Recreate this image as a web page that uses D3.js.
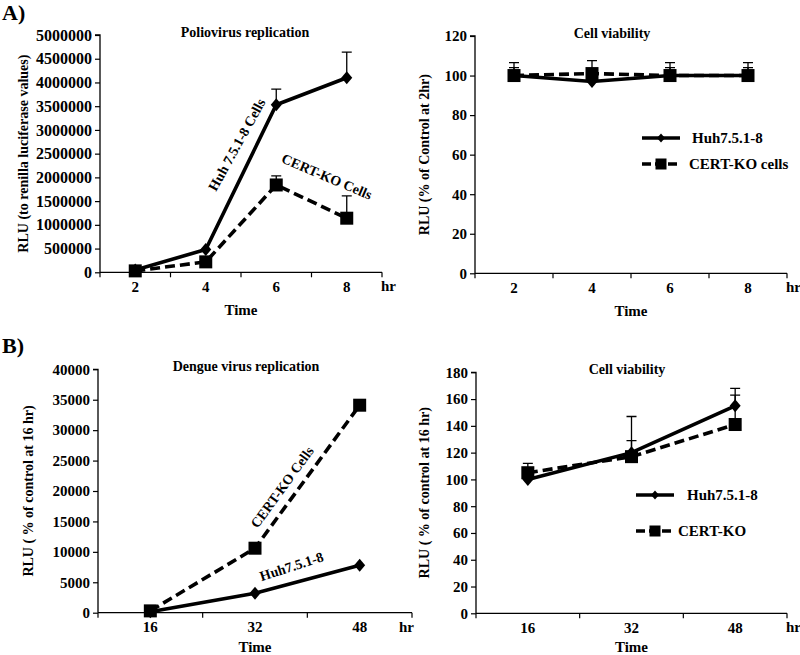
<!DOCTYPE html>
<html><head><meta charset="utf-8">
<script src="https://cdn.jsdelivr.net/npm/d3@7"></script>
<style>
body{margin:0;background:#fff;}
text{font-family:"Liberation Serif","Times New Roman",serif;font-weight:bold;fill:#000;}
</style></head>
<body><svg id="c" width="800" height="655"></svg>
<script>
// ---- data ----
const polioTimes = ["2","4","6","8"];
const polioHuh = [50000, 480000, 3530000, 4100000];
const polioHuhErr = [0, 0, 330000, 540000];
const polioCert = [30000, 220000, 1840000, 1140000];
const polioCertErr = [0, 0, 190000, 470000];
const polioYTicks = [0,500000,1000000,1500000,2000000,2500000,3000000,3500000,4000000,4500000,5000000];

const viabATimes = ["2","4","6","8"];
const viabAHuh = [100, 97, 100, 100];
const viabAHuhErr = [4, 4, 4, 4];
const viabACert = [100, 101, 100, 100];
const viabACertErr = [6.5, 6.5, 6.5, 6.5];
const viabAYTicks = [0,20,40,60,80,100,120];

const dengueTimes = ["16","32","48"];
const dengueHuh = [150, 3200, 7800];
const dengueCert = [300, 10600, 34100];
const dengueYTicks = [0,5000,10000,15000,20000,25000,30000,35000,40000];

const viabBTimes = ["16","32","48"];
const viabBHuh = [100, 120, 155];
const viabBHuhErr = [0, 27, 13];
const viabBCert = [105, 117, 141];
const viabBCertErr = [7, 12, 22];
const viabBYTicks = [0,20,40,60,80,100,120,140,160,180];

const svg = d3.select("#c");

function diamondPath(cx, cy, w, h){
  return `M${cx},${cy-h/2}L${cx+w/2},${cy}L${cx},${cy+h/2}L${cx-w/2},${cy}Z`;
}

function panel(cfg){
  const g = svg.append("g");
  const x = d3.scaleBand().domain(cfg.cats).range([cfg.x0, cfg.x1]).paddingInner(0).paddingOuter(0);
  const y = d3.scaleLinear().domain([0, cfg.yMax]).range([cfg.yB, cfg.yT]);
  const cx = d => x(d) + x.bandwidth()/2;

  // y axis
  const ya = g.append("g").attr("transform",`translate(${cfg.x0},0)`)
    .call(d3.axisLeft(y).tickValues(cfg.yTicks).tickSize(5).tickPadding(3).tickFormat(d3.format("d")));
  ya.select(".domain").attr("stroke","#000").attr("stroke-width",1.3).attr("d",`M-5,${cfg.yT}H0V${cfg.yB}`);
  ya.selectAll(".tick line").attr("stroke","#000").attr("stroke-width",1.2);
  ya.selectAll(".tick text").style("font-size",cfg.tickFs+"px").attr("font-family",null);

  // x axis (labels at centers, ticks at band edges)
  const xa = g.append("g").attr("transform",`translate(0,${cfg.yB})`)
    .call(d3.axisBottom(x).tickSize(0).tickPadding(9));
  xa.select(".domain").attr("stroke","#000").attr("stroke-width",1.3).attr("d",`M${cfg.x0},0H${cfg.x1}`);
  xa.selectAll(".tick text").style("font-size","15px").attr("font-family",null);
  const edges = cfg.cats.map(c => x(c)).concat([cfg.x1]);
  g.selectAll(".edge").data(edges).join("line")
    .attr("x1",d=>d).attr("x2",d=>d).attr("y1",cfg.yB).attr("y2",cfg.yB+5)
    .attr("stroke","#000").attr("stroke-width",1.2);
  g.append("text").attr("x",cfg.hrX).attr("y",cfg.yB+19).style("font-size","15px").text("hr");
  g.append("text").attr("x",(cfg.x0+cfg.x1)/2).attr("y",cfg.yB+cfg.timeDy).attr("text-anchor","middle")
    .style("font-size","15px").text("Time");

  // y label
  g.append("text").attr("transform",`translate(${cfg.yLabX},${(cfg.yT+cfg.yB)/2}) rotate(-90)`)
    .attr("text-anchor","middle").style("font-size","14px").text(cfg.yLabel);
  // title
  g.append("text").attr("x",cfg.titleX).attr("y",cfg.yT+2).attr("text-anchor","middle")
    .style("font-size","14px").text(cfg.title);

  // error bars
  const errs = [];
  cfg.series.forEach(s => { if(s.err) s.vals.forEach((v,i)=>{ if(s.err[i]>0) errs.push({c:cfg.cats[i], v, e:s.err[i]}); }); });
  g.selectAll(".eb").data(errs).join("path")
    .attr("d",d=>`M${cx(d.c)},${y(d.v)}V${y(d.v+d.e)}M${cx(d.c)-5},${y(d.v+d.e)}H${cx(d.c)+5}`)
    .attr("stroke","#000").attr("stroke-width",1.3).attr("fill","none");

  // lines + markers
  cfg.series.forEach(s => {
    const pts = s.vals.map((v,i)=>[cx(cfg.cats[i]), y(v)]);
    g.append("path").attr("d", d3.line()(pts)).attr("fill","none").attr("stroke","#000")
      .attr("stroke-width",3.6).attr("stroke-dasharray", s.dash ? "10,5" : null);
    if(s.marker==="diamond"){
      g.selectAll(null).data(pts).join("path").attr("d",p=>diamondPath(p[0],p[1],11,13)).attr("fill","#000");
    } else {
      g.selectAll(null).data(pts).join("rect").attr("x",p=>p[0]-6.5).attr("y",p=>p[1]-6.5)
        .attr("width",13).attr("height",13).attr("fill","#000");
    }
  });

  // legend
  if(cfg.legend){
    cfg.legend.forEach(L => {
      g.append("line").attr("x1",L.x).attr("x2",L.x+38).attr("y1",L.y).attr("y2",L.y)
        .attr("stroke","#000").attr("stroke-width",3.6).attr("stroke-dasharray",L.dash?"9,4":null);
      if(L.marker==="diamond") g.append("path").attr("d",diamondPath(L.x+19,L.y,8,9)).attr("fill","#000");
      else g.append("rect").attr("x",L.x+13.5).attr("y",L.y-5.5).attr("width",11).attr("height",11).attr("fill","#000");
      g.append("text").attr("x",L.tx).attr("y",L.y+5).style("font-size","15px").text(L.text);
    });
  }
  // in-plot labels
  if(cfg.labels){
    cfg.labels.forEach(L => {
      g.append("text").attr("transform",`translate(${L.x},${L.y}) rotate(${L.rot})`)
        .attr("text-anchor","middle").style("font-size","14px").text(L.text);
    });
  }
}

svg.append("text").attr("x",2).attr("y",20).style("font-size","22px").text("A)");
svg.append("text").attr("x",2).attr("y",353).style("font-size","22px").text("B)");

panel({cats:polioTimes, x0:100, x1:382, yT:35, yB:272.3, yMax:5000000, yTicks:polioYTicks, tickFs:16,
  hrX:381, timeDy:43,
  yLabX:28, yLabel:"RLU (to renilla luciferase values)", title:"Poliovirus replication", titleX:245,
  series:[{vals:polioHuh, err:polioHuhErr, marker:"diamond"},{vals:polioCert, err:polioCertErr, marker:"square", dash:true}],
  labels:[{x:241,y:147,rot:-61,text:"Huh 7.5.1-8 Cells"},{x:325,y:181,rot:23,text:"CERT-KO Cells"}]});

panel({cats:viabATimes, x0:475, x1:787, yT:36, yB:273.3, yMax:120, yTicks:viabAYTicks, tickFs:15,
  hrX:786, timeDy:43,
  yLabX:429, yLabel:"RLU (% of Control at 2hr)", title:"Cell viability", titleX:612,
  series:[{vals:viabAHuh, err:viabAHuhErr, marker:"diamond"},{vals:viabACert, err:viabACertErr, marker:"square", dash:true}],
  legend:[{x:642,y:138,tx:692,marker:"diamond",text:"Huh7.5.1-8"},{x:642,y:164,tx:689,marker:"square",dash:true,text:"CERT-KO cells"}]});

panel({cats:dengueTimes, x0:98, x1:412, yT:369.3, yB:612.7, yMax:40000, yTicks:dengueYTicks, tickFs:15,
  hrX:399, timeDy:39,
  yLabX:33, yLabel:"RLU ( % of control at 16 hr)", title:"Dengue virus replication", titleX:246,
  series:[{vals:dengueHuh, marker:"diamond"},{vals:dengueCert, marker:"square", dash:true}],
  labels:[{x:286,y:490,rot:-54,text:"CERT-KO Cells"},{x:293,y:571,rot:-18,text:"Huh7.5.1-8"}]});

panel({cats:viabBTimes, x0:476, x1:787, yT:372.3, yB:613.3, yMax:180, yTicks:viabBYTicks, tickFs:15,
  hrX:786, timeDy:39,
  yLabX:429, yLabel:"RLU ( % of control at 16 hr)", title:"Cell viability", titleX:627,
  series:[{vals:viabBHuh, err:viabBHuhErr, marker:"diamond"},{vals:viabBCert, err:viabBCertErr, marker:"square", dash:true}],
  legend:[{x:636,y:495,tx:687,marker:"diamond",text:"Huh7.5.1-8"},{x:636,y:531,tx:678,marker:"square",dash:true,text:"CERT-KO"}]});
</script></body></html>
